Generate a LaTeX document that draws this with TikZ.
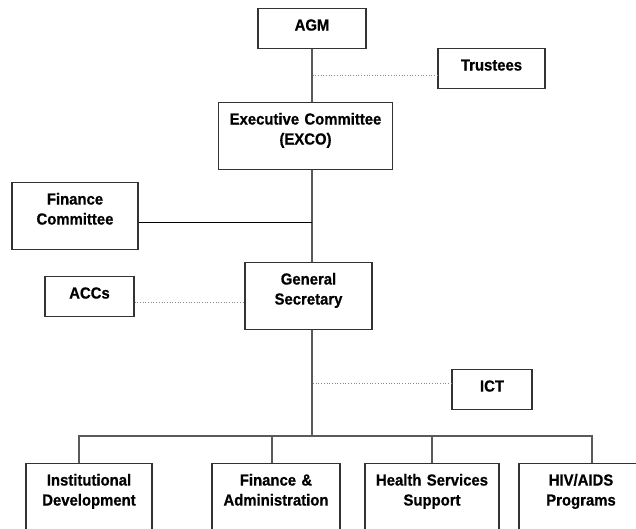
\documentclass[tikz,border=0pt]{standalone}
\usepackage{xcolor}
\usepackage{fontspec}
\setmainfont{Liberation Sans}[FakeStretch=0.93, BoldFeatures={FakeBold=0.6}]
\usepackage{tikz}
\usetikzlibrary{positioning}

\definecolor{boxline}{HTML}{333333}
\definecolor{linegray}{HTML}{5A5A5A}
\definecolor{dotgray}{HTML}{8A8A8A}

\tikzset{
    unit/.style={draw=boxline, line width=1.1pt, fill=white, anchor=north, inner xsep=0pt, inner ysep=10.5pt,
        text height=11.5pt, align=center, font=\bfseries\fontsize{16}{20}\selectfont},
    oneline/.style={unit, text width=#1, text depth=7.5pt},
    twoline/.style={unit, text width=#1, text depth=34.5pt},
    branch/.style={unit, text width=#1, text depth=60pt},
    solidlink/.style={draw=linegray, line width=1.2pt},
    blacklink/.style={draw=black, line width=0.8pt},
    dotlink/.style={draw=dotgray, line width=0.7pt, dotted}
}

\begin{document}
\begin{tikzpicture}[x=1pt, y=-1pt]
        \useasboundingbox (0,0) rectangle (636,529);
        \clip (0,0) rectangle (636,529);
        \coordinate (bus) at (312,436);

        \node [oneline=108pt] (agm) at (312,8) {AGM};
        \node [oneline=107pt] (trustees) at (491.5,48) {Trustees};
        \node [twoline=174pt] (exco) at (305.5,102) {Executive Committee\\(EXCO)};
        \node [twoline=126pt] (fincom) at (75,182) {Finance\\Committee};
        \node [twoline=127pt] (gensec) at (308.5,262) {General\\Secretary};
        \node [oneline=89pt] (accs) at (89.5,276) {ACCs};
        \node [oneline=80pt] (ict) at (492,369) {ICT};

        \node [branch=126pt] (instdev) at (89,463) {Institutional\\Development};
        \node [branch=128pt] (finadmin) at (276,463) {Finance \&\\Administration};
        \node [branch=134pt] (health) at (432,463) {Health Services\\Support};
        \node [branch=124pt] (hivaids) at (581,463) {HIV/AIDS\\Programs};

        \draw [solidlink] (agm.south -| bus) -- (exco.north -| bus);
        \draw [solidlink] (exco.south -| bus) -- (gensec.north -| bus);
        \draw [solidlink] (gensec.south -| bus) -- (bus);

        \draw [dotlink] ([yshift=-6.5pt]trustees.west) -- ([yshift=-6.5pt]trustees.west -| bus);
        \draw [blacklink] ([yshift=-6.5pt]fincom.east) -- ([yshift=-6.5pt]fincom.east -| bus);
        \draw [dotlink] ([yshift=-6pt]accs.east) -- ([yshift=-6pt]accs.east -| gensec.west);
        \draw [dotlink] ([yshift=6.5pt]ict.west) -- ([yshift=6.5pt]ict.west -| bus);

        \draw [solidlink] ([xshift=-10pt]instdev.north) |- (bus) -| ([xshift=11pt]hivaids.north);
        \draw [solidlink] ([xshift=-4pt]finadmin.north) -- ([xshift=-4pt]finadmin.north |- bus);
        \draw [solidlink] (health.north) -- (health.north |- bus);
\end{tikzpicture}
\end{document}
